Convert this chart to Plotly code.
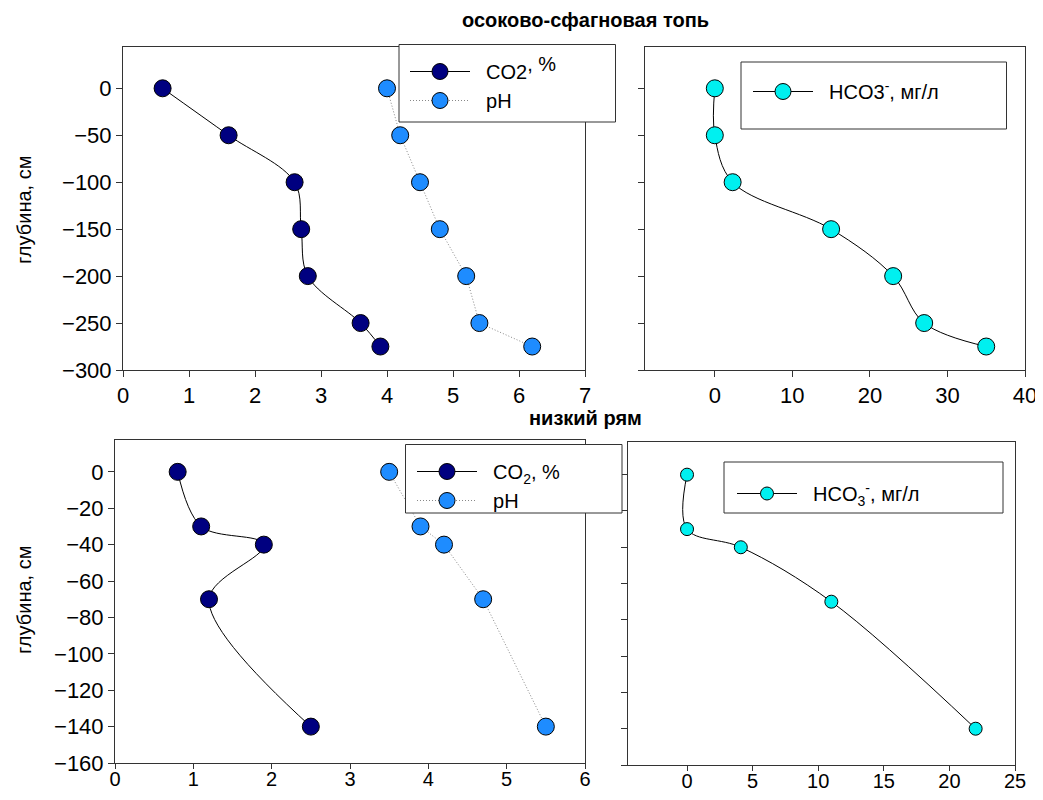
import plotly.graph_objects as go

# page offset: the browser body keeps an 8px margin
OFF = 8
W, H = 1043 - OFF, 800 - 2 * OFF

# ---------------- data ----------------
# осоково-сфагновая топь
top_depth = [0, -50, -100, -150, -200, -250, -275]
top_co2 = [0.6, 1.6, 2.6, 2.7, 2.8, 3.6, 3.9]
top_ph = [4.0, 4.2, 4.5, 4.8, 5.2, 5.4, 6.2]
top_hco3 = [0, 0, 2.3, 15, 23, 27, 35]

# низкий рям
bot_depth = [0, -30, -40, -70, -140]
bot_co2 = [0.8, 1.1, 1.9, 1.2, 2.5]
bot_ph = [3.5, 3.9, 4.2, 4.7, 5.5]
bot_hco3 = [0, 0, 4.1, 11, 22]

top_title = "осоково-сфагновая топь"
bot_title = "низкий рям"
ylab = "глубина, см"

FONT = "Liberation Sans, Arial, sans-serif"
NAVY = "#000080"
BLUE = "#1E8CFF"
CYAN = "#00F0F0"
NB = "\u00a0\u00a0"


def px_x(p):
    return (p - OFF) / W


def px_y(p):
    return 1 - (p - OFF) / H


fig = go.Figure()

# top-left
fig.add_trace(go.Scatter(x=top_co2, y=top_depth, mode="lines+markers",
                         name=NB + "CO2<sup><span style='font-size:20px'>, %</span></sup>",
                         line=dict(color="black", width=1, shape="spline"),
                         marker=dict(color=NAVY, size=17, line=dict(color="black", width=1)),
                         xaxis="x", yaxis="y", legend="legend"))
fig.add_trace(go.Scatter(x=top_ph, y=top_depth, mode="lines+markers", name=NB + "pH",
                         line=dict(color="#888", width=1, dash="1px,2px"),
                         marker=dict(color=BLUE, size=17, line=dict(color="black", width=1)),
                         xaxis="x", yaxis="y", legend="legend"))
# top-right
fig.add_trace(go.Scatter(x=top_hco3, y=top_depth, mode="lines+markers",
                         name=NB + "HCO3<sup>-</sup>, мг/л",
                         line=dict(color="black", width=1, shape="spline"),
                         marker=dict(color=CYAN, size=17, line=dict(color="black", width=1)),
                         xaxis="x2", yaxis="y2", legend="legend2"))
# bottom-left
fig.add_trace(go.Scatter(x=bot_co2, y=bot_depth, mode="lines+markers", name=NB + "CO<sub>2</sub>, %",
                         line=dict(color="black", width=1, shape="spline"),
                         marker=dict(color=NAVY, size=17, line=dict(color="black", width=1)),
                         xaxis="x3", yaxis="y3", legend="legend3"))
fig.add_trace(go.Scatter(x=bot_ph, y=bot_depth, mode="lines+markers", name=NB + "pH",
                         line=dict(color="#888", width=1, dash="1px,2px"),
                         marker=dict(color=BLUE, size=17, line=dict(color="black", width=1)),
                         xaxis="x3", yaxis="y3", legend="legend3"))
# bottom-right
fig.add_trace(go.Scatter(x=bot_hco3, y=bot_depth, mode="lines+markers",
                         name=NB + "HCO<sub>3</sub><sup>-</sup>, мг/л",
                         line=dict(color="black", width=1, shape="spline"),
                         marker=dict(color=CYAN, size=13, line=dict(color="black", width=1)),
                         xaxis="x4", yaxis="y4", legend="legend4"))

axis_common = dict(showline=True, linecolor="#333", linewidth=1, mirror=True, automargin=False,
                   ticks="outside", ticklen=6, tickcolor="#333", showgrid=False, zeroline=False,
                   tickfont=dict(family=FONT, size=22, color="black"))
bottom_x = dict(axis_common)
bottom_x.update(ticklen=5, ticklabelstandoff=-7, tickfont=dict(family=FONT, size=20, color="black"))

leg_common = dict(xanchor="left", yanchor="top", bgcolor="rgba(0,0,0,0)", borderwidth=0,
                  font=dict(family=FONT, size=20, color="black"), itemwidth=60)

fig.update_layout(
    width=W, height=H, margin=dict(l=0, r=0, t=0, b=0, autoexpand=False),
    paper_bgcolor="white", plot_bgcolor="white",
    font=dict(family=FONT, color="black"),
    xaxis=dict(domain=[px_x(123), px_x(585)], range=[0, 7], dtick=1, anchor="y", **axis_common),
    yaxis=dict(domain=[px_y(370), px_y(47)], range=[-300, 44], dtick=50, anchor="x", **axis_common),
    xaxis2=dict(domain=[px_x(645), px_x(1025)], range=[-9, 40], dtick=10, anchor="y2", **axis_common),
    yaxis2=dict(domain=[px_y(370), px_y(47)], range=[-300, 44], dtick=50, anchor="x2",
                showticklabels=False, **axis_common),
    xaxis3=dict(domain=[px_x(115), px_x(585)], range=[0, 6], dtick=1, anchor="y3", **bottom_x),
    yaxis3=dict(domain=[px_y(763), px_y(440)], range=[-160, 17.5], dtick=20, anchor="x3", **axis_common),
    xaxis4=dict(domain=[px_x(628), px_x(1015)], range=[-4.5, 25], dtick=5, anchor="y4", **bottom_x),
    yaxis4=dict(domain=[px_y(765), px_y(442)], range=[-160, 18], dtick=20, anchor="x4",
                showticklabels=False, **axis_common),
    legend=dict(x=px_x(405), y=px_y(52), **leg_common),
    legend2=dict(x=px_x(748), y=px_y(72), **leg_common),
    legend3=dict(x=px_x(412), y=px_y(452), **leg_common),
    legend4=dict(x=px_x(732), y=px_y(474), **leg_common),
    shapes=[
        dict(type="rect", xref="paper", yref="paper", x0=px_x(399), x1=px_x(615.5), y0=px_y(122), y1=px_y(44.5),
             line=dict(color="#333", width=1), fillcolor="white", layer="above"),
        dict(type="rect", xref="paper", yref="paper", x0=px_x(741), x1=px_x(1006.5), y0=px_y(129), y1=px_y(62),
             line=dict(color="#333", width=1), fillcolor="white", layer="above"),
        dict(type="rect", xref="paper", yref="paper", x0=px_x(405.5), x1=px_x(622), y0=px_y(513), y1=px_y(444.5),
             line=dict(color="#333", width=1), fillcolor="white", layer="above"),
        dict(type="rect", xref="paper", yref="paper", x0=px_x(724), x1=px_x(1003), y0=px_y(513), y1=px_y(462),
             line=dict(color="#333", width=1), fillcolor="white", layer="above"),
    ],
    annotations=[
        dict(text="<b>" + top_title + "</b>", x=px_x(585), y=px_y(20), xref="paper", yref="paper",
             showarrow=False, font=dict(family=FONT, size=20, color="black"), xanchor="center", yanchor="middle"),
        dict(text="<b>" + bot_title + "</b>", x=px_x(585), y=px_y(418), xref="paper", yref="paper",
             showarrow=False, font=dict(family=FONT, size=20, color="black"), xanchor="center", yanchor="middle"),
        dict(text=ylab, x=px_x(24), y=px_y(210), xref="paper", yref="paper", textangle=-90,
             showarrow=False, font=dict(family=FONT, size=20, color="black"), xanchor="center", yanchor="middle"),
        dict(text=ylab, x=px_x(24), y=px_y(600), xref="paper", yref="paper", textangle=-90,
             showarrow=False, font=dict(family=FONT, size=20, color="black"), xanchor="center", yanchor="middle"),
    ],
)

fig.write_html("out.html")
